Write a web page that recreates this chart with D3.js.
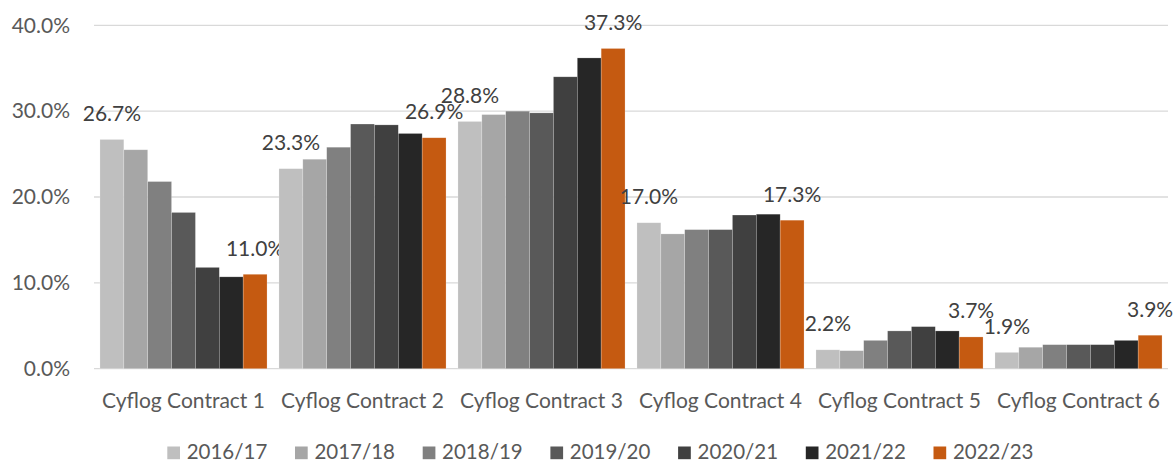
<!DOCTYPE html>
<html>
<head>
<meta charset="utf-8">
<script src="https://cdn.jsdelivr.net/npm/d3@7"></script>
<style>
  body { margin: 0; background: #fff; }
  text { font-family: Lato, "Open Sans", sans-serif; }
</style>
</head>
<body>
<div id="chart"></div>
<script>
(function () {
  var width = 1174,
    height = 462;

  var contracts = ["Cyflog Contract 1", "Cyflog Contract 2", "Cyflog Contract 3",
    "Cyflog Contract 4", "Cyflog Contract 5", "Cyflog Contract 6"];
  var years = ["2016/17", "2017/18", "2018/19", "2019/20", "2020/21", "2021/22", "2022/23"];
  var colours = ["#bfbfbf", "#a6a6a6", "#808080", "#595959", "#404040", "#262626", "#c55a11"];
  var yTicks = [0, 0.1, 0.2, 0.3, 0.4];

  // one array per contract, in year order
  var contract1 = [0.267, 0.255, 0.218, 0.182, 0.118, 0.107, 0.110];
  var contract2 = [0.233, 0.244, 0.258, 0.285, 0.284, 0.274, 0.269];
  var contract3 = [0.288, 0.296, 0.300, 0.298, 0.340, 0.362, 0.373];
  var contract4 = [0.170, 0.157, 0.162, 0.162, 0.179, 0.180, 0.173];
  var contract5 = [0.022, 0.021, 0.033, 0.044, 0.049, 0.044, 0.037];
  var contract6 = [0.019, 0.025, 0.028, 0.028, 0.028, 0.033, 0.039];
  var values = [contract1, contract2, contract3, contract4, contract5, contract6];

  var left = 94, right = 1168, top = 25.3, bottom = 368.7;

  var svg = d3.select("#chart")
    .append("svg")
    .attr("width", width)
    .attr("height", height);

  var x0 = d3.scaleBand().domain(contracts).range([left, right]).padding(0);
  var x1 = d3.scaleBand().domain(years)
    .range([0, x0.bandwidth()])
    .paddingInner(0)
    .paddingOuter(0.25);
  var y = d3.scaleLinear().domain([0, 0.4]).range([bottom, top]);
  var colour = d3.scaleOrdinal().domain(years).range(colours);
  var pct = d3.format(".1%");

  // gridlines
  svg.append("g")
    .selectAll("line")
    .data(yTicks)
    .enter().append("line")
    .attr("x1", left)
    .attr("x2", right)
    .attr("y1", function (d) { return y(d); })
    .attr("y2", function (d) { return y(d); })
    .attr("stroke", "#d9d9d9")
    .attr("stroke-width", 1.3);

  // y labels
  var yAxis = svg.append("g")
    .attr("transform", "translate(70,0)")
    .call(d3.axisLeft(y).tickValues(yTicks).tickFormat(pct).tickSize(0).tickPadding(0));
  yAxis.select(".domain").remove();
  yAxis.selectAll("text")
    .attr("fill", "#595959")
    .style("font-size", "21px")
    .style("font-family", "Lato, sans-serif");

  // bars
  var groups = svg.selectAll(".contract")
    .data(values)
    .enter().append("g")
    .attr("class", "contract")
    .attr("transform", function (d, i) { return "translate(" + x0(contracts[i]) + ",0)"; });

  groups.selectAll("rect")
    .data(function (d) { return d; })
    .enter().append("rect")
    .attr("x", function (d, j) { return x1(years[j]); })
    .attr("y", function (d) { return y(d); })
    .attr("width", x1.bandwidth())
    .attr("height", function (d) { return y(0) - y(d); })
    .attr("fill", function (d, j) { return colour(years[j]); })
    .attr("stroke", "#ffffff")
    .attr("stroke-opacity", 0.35)
    .attr("stroke-width", 0.6);

  // labels on first and last year
  groups.selectAll(".lbl")
    .data(function (d) { return d.map(function (v, j) { return { v: v, j: j }; })
      .filter(function (o) { return o.j === 0 || o.j === years.length - 1; }); })
    .enter().append("text")
    .attr("class", "lbl")
    .attr("x", function (o) { return x1(years[o.j]) + x1.bandwidth() / 2; })
    .attr("y", function (o) { return y(o.v) - 18.5; })
    .attr("text-anchor", "middle")
    .attr("fill", "#404040")
    .style("font-size", "21px")
    .text(function (o) { return pct(o.v); });

  // x labels
  var xAxis = svg.append("g")
    .attr("transform", "translate(0," + bottom + ")")
    .call(d3.axisBottom(x0).tickSize(0).tickPadding(0));
  xAxis.select(".domain").remove();
  xAxis.selectAll("text")
    .attr("dy", 0)
    .attr("y", 39.5)
    .attr("fill", "#595959")
    .style("font-size", "21px")
    .style("font-family", "Lato, sans-serif");

  // legend
  var legend = svg.append("g")
    .selectAll("g")
    .data(years)
    .enter().append("g")
    .attr("transform", function (d, i) { return "translate(" + (167.3 + i * 127.7) + ",446.5)"; });

  legend.append("rect")
    .attr("width", 12.7)
    .attr("height", 12.7)
    .attr("fill", function (d) { return colour(d); });

  legend.append("text")
    .attr("x", 19.4)
    .attr("y", 12.7)
    .attr("fill", "#595959")
    .style("font-size", "20.5px")
    .text(function (d) { return d; });
})();
</script>
</body>
</html>
